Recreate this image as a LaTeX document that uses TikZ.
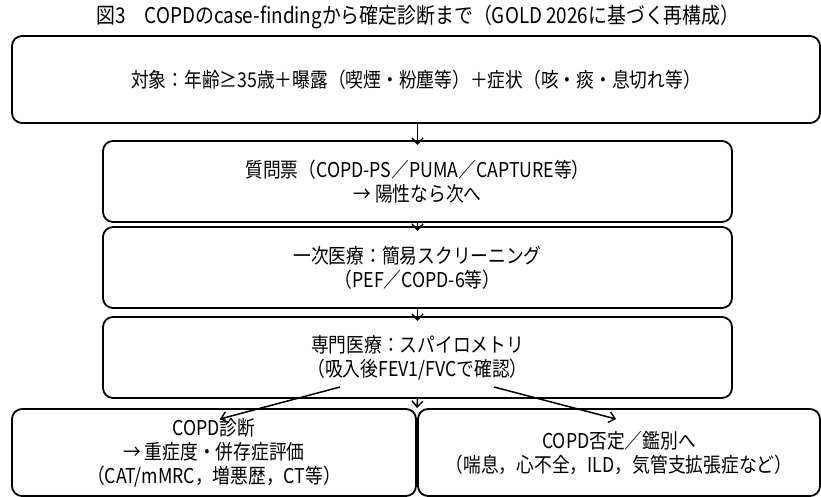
\documentclass[tikz,border=0pt]{standalone}
\usepackage{fontspec}
\setmainfont{Noto Sans CJK JP}[FakeStretch=0.87]
\usetikzlibrary{arrows.meta,calc}
\tikzset{
  box/.style={draw=black, line width=1.8pt, rounded corners=10pt, inner sep=0pt, outer sep=0pt,
    align=center, font=\fontsize{20.4}{24}\selectfont},
  arr/.style={line width=1.5pt, -{Straight Barb[length=6pt,width=11pt,line width=1.4pt]}},
}
\begin{document}
\begin{tikzpicture}[x=1pt,y=1pt]
\useasboundingbox (0,0) rectangle (821,497);
\node[font=\fontsize{21.7}{24}\selectfont] (title) at (418,480) {図3　COPDのcase-findingから確定診断まで（GOLD 2026に基づく再構成）};
\node[box, minimum width=808pt, minimum height=87pt] (b1) at (416,417.5)
  {対象：年齢≥35歳＋曝露（喫煙・粉塵等）＋症状（咳・痰・息切れ等）};
\node[box, minimum width=629pt, minimum height=81pt] (b2) at (417.5,315.5)
  {質問票（COPD-PS／PUMA／CAPTURE等）\\→ 陽性なら次へ};
\node[box, minimum width=629pt, minimum height=81pt] (b3) at (417.5,229.5)
  {一次医療：簡易スクリーニング\\（PEF／COPD-6等）};
\node[box, minimum width=629pt, minimum height=81pt] (b4) at (417.5,139.5)
  {専門医療：スパイロメトリ\\（吸入後FEV1/FVCで確認）};
\node[box, minimum width=404pt, minimum height=87pt] (b5) at (214,44.5)
  {COPD診断\\→ 重症度・併存症評価\\（CAT/mMRC，増悪歴，CT等）};
\node[box, minimum width=402pt, minimum height=87pt] (b6) at (619,44.5)
  {COPD否定／鑑別へ\\（喘息，心不全，ILD，気管支拡張症など）};
\coordinate (gap) at ($(b5.north east)!0.5!(b6.north west)+(0,1)$);
\draw[arr] (b1.south -| b2.north) -- ([yshift=-4pt]b2.north);
\draw[arr] (b2.south) -- ([yshift=-4pt]b3.north);
\draw[arr] (b3.south) -- ([yshift=-4pt]b4.north);
\draw[arr] (b4.south) -- (gap);
\draw[arr] ([shift={(-77.5pt,11pt)}]b4.south) -- ([shift={(6pt,-10pt)}]b5.north);
\draw[arr] ([shift={(76.5pt,11pt)}]b4.south) -- ([shift={(-3pt,-10pt)}]b6.north);
\end{tikzpicture}
\end{document}
